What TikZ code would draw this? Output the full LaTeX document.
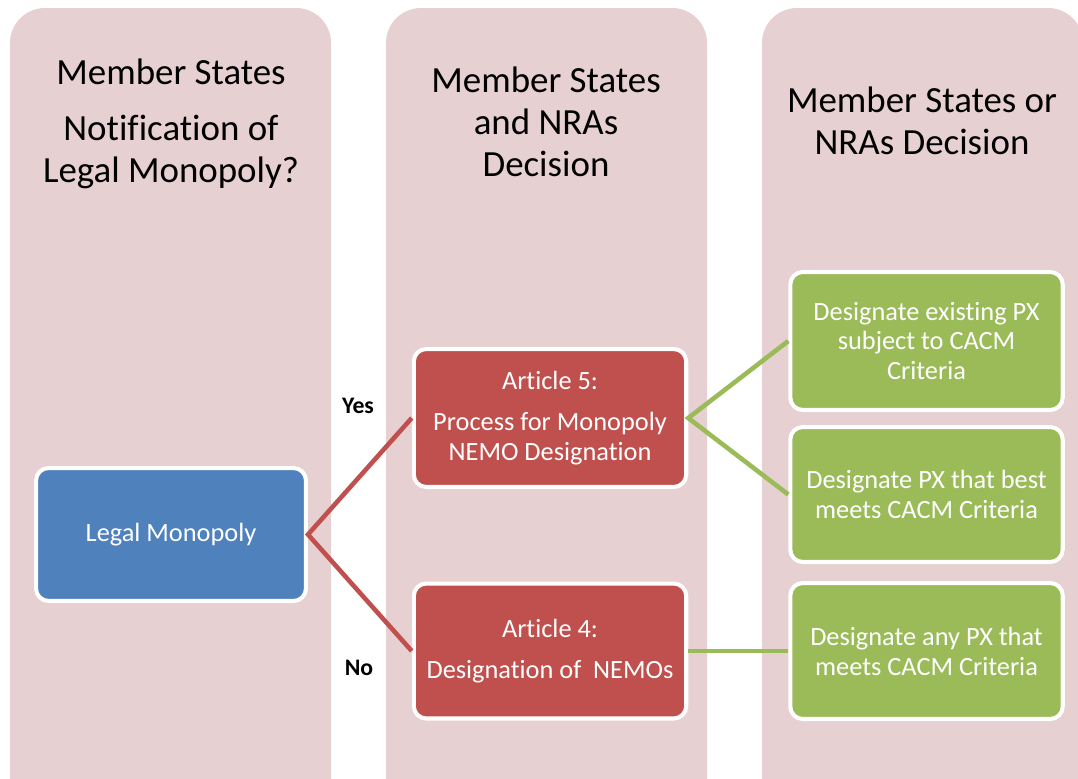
\documentclass[tikz,border=0pt]{standalone}
\usepackage{fontspec}
\setmainfont{Carlito}[Ligatures=NoCommon]
\usepackage{tikz}
\usetikzlibrary{arrows.meta}

\definecolor{colpink}{HTML}{E7D0D1}
\definecolor{boxblue}{HTML}{4F81BD}
\definecolor{boxred}{HTML}{C0504D}
\definecolor{boxgreen}{HTML}{9BBB59}

\tikzset{
  column/.style={fill=colpink, rounded corners=0.7cm},
  header/.style={align=center, font=\fontsize{21}{23.8}\selectfont},
  stepbox/.style={draw=white, line width=2.3pt, rounded corners=0.25cm,
    text=white, align=center, font=\fontsize{15}{17}\selectfont,
    minimum width=5.45cm, inner sep=0pt},
  bluebox/.style={stepbox, fill=boxblue, minimum width=5.4cm},
  redbox/.style={stepbox, fill=boxred},
  greenbox/.style={stepbox, fill=boxgreen},
  redline/.style={draw=boxred, line width=2.6pt},
  greenline/.style={draw=boxgreen, line width=2.6pt},
  answer/.style={font=\fontsize{13.5}{15}\selectfont\bfseries}
}

\begin{document}
\begin{tikzpicture}[x=0.02cm, y=-0.02cm]
      \useasboundingbox (0,0) rectangle (1078,778);

      % columns
      \fill[column] (10,8) rectangle (331,830);
      \fill[column] (386,8) rectangle (707,830);
      \fill[column] (762,8) rectangle (1083,830);

      \node[header] (h1) at (171,124) {Member States\\[8pt]Notification of\\Legal Monopoly?};
      \node[header] (h2) at (546,122) {Member States\\and NRAs\\Decision};
      \node[header] (h3) at (922,121) {Member States or\\NRAs Decision};

      % boxes
      \node[bluebox, minimum height=2.66cm] (legal) at (171,534.5) {Legal Monopoly};

      \node[redbox, minimum height=2.76cm] (art5) at (550,418) {Article 5:\\[6pt]Process for Monopoly\\NEMO Designation};
      \node[redbox, minimum height=2.70cm] (art4) at (550,651) {Article 4:\\[6pt]Designation of\ \ NEMOs};

      \node[greenbox, minimum height=2.76cm] (exist) at (926.5,341) {Designate existing PX\\subject to CACM\\Criteria};
      \node[greenbox, minimum height=2.70cm] (best) at (926.5,494.5) {Designate PX that best\\meets CACM Criteria};
      \node[greenbox, minimum height=2.72cm] (any) at (926.5,651) {Designate any PX that\\meets CACM Criteria};

      % connectors
      \draw[redline] (art5.west) -- (legal.east) -- (art4.west);
      \draw[greenline] (exist.west) -- (art5.east) -- (best.west);
      \draw[greenline] (art4.east) -- (any.west);

      \node[answer] (yes) at (358,406) {Yes};
      \node[answer] (no) at (359,668) {No};
    \end{tikzpicture}
\end{document}
